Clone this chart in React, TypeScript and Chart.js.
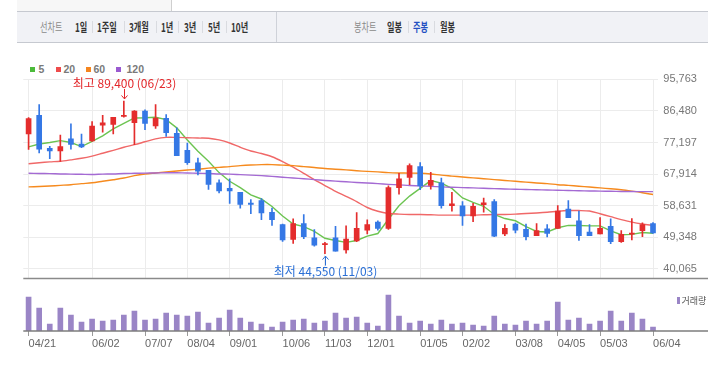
import React, { useEffect, useRef } from "react";
import { Chart, registerables } from "chart.js";
Chart.register(...registerables);

const dates = [
  "04/21", "04/28", "05/04", "05/11", "05/18", "05/25", "06/02", "06/08", "06/15", "06/23",
  "06/29", "07/07", "07/13", "07/20", "07/27", "08/04", "08/10", "08/18", "08/24", "09/01",
  "09/07", "09/14", "09/21", "09/28", "10/06", "10/12", "10/19", "10/26", "11/03", "11/09",
  "11/16", "11/23", "12/01", "12/07", "12/14", "12/21", "12/28", "01/05", "01/11", "01/18",
  "01/25", "02/02", "02/08", "02/15", "02/22", "03/02", "03/08", "03/15", "03/22", "03/29",
  "04/05", "04/12", "04/19", "04/26", "05/03", "05/10", "05/17", "05/24", "05/31", "06/04",
];
const tickDates = ["04/21", "06/02", "07/07", "08/04", "09/01", "10/06", "11/03", "12/01", "01/05", "02/02", "03/08", "04/05", "05/03", "06/04"];

const opens = [79700, 85200, 75450, 74700, 78250, 76750, 77650, 82250, 82500, 84850, 83050, 86400, 82050, 84300, 79900, 74900, 71250, 69000, 65350, 63700, 62550, 59400, 60150, 56700, 53050, 48700, 53350, 49150, 47200, 49150, 45600, 48300, 51400, 53800, 51950, 63950, 66950, 70100, 64600, 65350, 58650, 58600, 55650, 58950, 59800, 50350, 53250, 51650, 49800, 51850, 51950, 57650, 54200, 50850, 50350, 52600, 48050, 50250, 51300, 53350];
const highs = [84500, 88300, 76100, 79350, 82700, 79650, 83350, 85200, 84600, 89400, 86600, 86800, 88300, 85400, 81500, 77050, 72650, 69000, 66200, 66500, 62550, 60400, 60700, 57900, 53250, 54750, 56050, 51600, 47850, 52600, 52700, 56600, 54450, 54200, 64450, 68150, 70950, 71300, 68450, 66750, 62550, 59800, 59300, 60900, 60400, 53050, 53550, 53250, 53350, 53050, 58650, 60150, 57050, 53050, 55100, 54750, 51300, 54850, 53600, 53700];
const lows = [75150, 74100, 72450, 71600, 75250, 75650, 77500, 80250, 79700, 84600, 76550, 80950, 81300, 79000, 73300, 70750, 67700, 63400, 62400, 59300, 57900, 56250, 54550, 52800, 48100, 47550, 48950, 46700, 44550, 45250, 44700, 48050, 50350, 51400, 51650, 62000, 64800, 63350, 63500, 57900, 57000, 52800, 53900, 56700, 49500, 49800, 50650, 48600, 49800, 49450, 51950, 55100, 48400, 49800, 50350, 47500, 47850, 48600, 49500, 50450];
const closes = [84200, 75250, 74700, 76000, 76650, 75900, 82050, 83000, 84600, 85200, 86400, 82800, 84400, 80100, 73300, 71300, 68800, 64900, 62950, 62950, 59000, 59000, 56500, 54550, 48600, 53350, 49500, 47000, 47500, 45250, 48800, 51950, 53050, 51950, 63950, 66500, 70400, 64450, 66100, 58650, 59150, 55600, 58450, 59500, 49700, 51950, 51400, 49500, 51300, 50450, 57050, 55100, 49800, 49800, 51950, 48050, 50250, 50550, 53050, 50650];
const volumes = [1360, 920, 280, 920, 640, 360, 480, 400, 440, 640, 800, 440, 480, 720, 640, 600, 760, 320, 520, 840, 520, 360, 280, 160, 360, 440, 480, 320, 400, 720, 520, 560, 320, 200, 1440, 600, 320, 400, 280, 440, 280, 320, 240, 200, 600, 280, 240, 400, 280, 400, 1160, 440, 520, 280, 400, 800, 400, 720, 480, 160];

const ma5 = [75900, 76750, 77200, 77750, 77200, 76000, 77500, 79150, 81200, 82800, 84400, 84450, 84600, 83900, 81500, 77950, 74600, 71700, 68350, 65800, 63950, 61800, 60600, 58400, 55600, 53250, 52500, 51050, 49050, 48400, 47850, 48400, 49700, 50450, 54650, 58600, 61450, 63700, 66000, 65250, 63700, 60900, 59600, 58450, 56050, 54850, 54200, 52500, 51050, 50900, 52150, 52850, 52800, 52700, 52700, 51200, 50100, 50200, 50750, 50550];
const ma20 = [70950, 71250, 71500, 71700, 72100, 72550, 73200, 74050, 74900, 75800, 76550, 77400, 78250, 78700, 78700, 78600, 78500, 78450, 77950, 77050, 75800, 74700, 73950, 73000, 71600, 69950, 68150, 66300, 64550, 62850, 61350, 59800, 58100, 57000, 56350, 56150, 56050, 56050, 55950, 55850, 55850, 55850, 55850, 55950, 56050, 56050, 56150, 56350, 56500, 56700, 57000, 57200, 57200, 57050, 56250, 55400, 54550, 53800, 53250, 52850];
const ma60 = [64150, 64250, 64400, 64600, 64800, 65100, 65350, 65800, 66250, 66750, 67450, 67950, 68250, 68550, 68800, 69100, 69350, 69650, 69900, 70100, 70400, 70600, 70700, 70700, 70550, 70400, 70100, 69850, 69550, 69350, 69150, 68900, 68700, 68550, 68350, 68250, 68200, 68150, 67950, 67600, 67330, 67050, 66800, 66550, 66300, 66050, 65800, 65550, 65300, 65100, 64800, 64600, 64350, 64100, 63850, 63600, 63300, 62900, 62450, 61900];
const ma120 = [68150, 68100, 68050, 67950, 67900, 67850, 67800, 67900, 67950, 68100, 68150, 68200, 68250, 68300, 68300, 68250, 68150, 68100, 67950, 67900, 67750, 67600, 67450, 67250, 67000, 66750, 66550, 66300, 66050, 65850, 65650, 65450, 65300, 65100, 64900, 64750, 64550, 64450, 64300, 64150, 64050, 63950, 63850, 63750, 63650, 63550, 63450, 63400, 63300, 63250, 63150, 63100, 63000, 62950, 62900, 62850, 62800, 62800, 62750, 62750];

const priceTicks = [40065, 49348, 58631, 67914, 77197, 86480, 95763];
const priceMin = 37266;
const priceMax = 95763;
const volMax = 1680;

const RED = "#e42d2d";
const BLUE = "#3578e5";
const GRID = "#ececec";
const VOL = "#9a85c6";
const LINE_COLORS = { ma5: "#6cc451", ma20: "#f06868", ma60: "#f68a1e", ma120: "#a46ad3" };
const LEGEND = [
  { label: "5", color: "#4cbb3a", sq: 30, tx: 38.5 },
  { label: "20", color: "#ee4b4b", sq: 55.5, tx: 63.5 },
  { label: "60", color: "#f5851f", sq: 85.5, tx: 93.5 },
  { label: "120", color: "#9a5ad0", sq: 115.5, tx: 126.5 },
];

const fmt = (v: number) => Math.round(v).toLocaleString("en-US");
const LEFT = 23.3;
const AXIS_W = 49.7;
const NUM_FONT = "'Liberation Sans', Arial, sans-serif";
const KR_FONT = "'Noto Sans CJK KR', sans-serif";

export default function App() {
  const priceRef = useRef<HTMLCanvasElement>(null);
  const volRef = useRef<HTMLCanvasElement>(null);

  useEffect(() => {
    const tickIdx = new Set(tickDates.map((d) => dates.indexOf(d)));
    const colors = opens.map((o, i) => (closes[i] >= o ? RED : BLUE));

    const annot = {
      id: "annot",
      afterDraw(chart: any) {
        const { ctx, scales, chartArea } = chart;
        const x = scales.x, y = scales.y;
        ctx.save();
        ctx.strokeStyle = "#8a8a8a";
        ctx.lineWidth = 1.5;
        ctx.beginPath();
        ctx.moveTo(chartArea.left, chartArea.bottom);
        ctx.lineTo(chart.width, chartArea.bottom);
        ctx.stroke();

        const hi = Math.max(...highs);
        const lo = Math.min(...lows);
        const hiIdx = highs.indexOf(hi);
        const loIdx = lows.indexOf(lo);
        ctx.font = `12px ${KR_FONT}`;
        ctx.textAlign = "center";
        ctx.textBaseline = "middle";
        ctx.lineWidth = 1;

        let px = Math.round(x.getPixelForValue(hiIdx)) + 0.5;
        let py = y.getPixelForValue(hi);
        ctx.fillStyle = ctx.strokeStyle = "#e3262a";
        ctx.fillText(`최고 ${fmt(hi)} (${dates[hiIdx]})`, px, py - 18);
        ctx.beginPath();
        ctx.moveTo(px, py - 12);
        ctx.lineTo(px, py - 2);
        ctx.moveTo(px - 3, py - 5.5);
        ctx.lineTo(px, py - 2);
        ctx.lineTo(px + 3, py - 5.5);
        ctx.stroke();

        px = Math.round(x.getPixelForValue(loIdx)) + 0.5;
        py = y.getPixelForValue(lo);
        ctx.fillStyle = ctx.strokeStyle = "#2a6fd6";
        ctx.fillText(`최저 ${fmt(lo)} (${dates[loIdx]})`, px, py + 18);
        ctx.beginPath();
        ctx.moveTo(px, py + 12);
        ctx.lineTo(px, py + 2.5);
        ctx.moveTo(px - 3, py + 6);
        ctx.lineTo(px, py + 2.5);
        ctx.lineTo(px + 3, py + 6);
        ctx.stroke();
        ctx.restore();
      },
    };

    const lineDs = (data: number[], color: string, tension: number) => ({
      type: "line" as const,
      data,
      borderColor: color,
      borderWidth: 1.4,
      pointRadius: 0,
      tension,
      order: 1,
    });

    const price = new Chart(priceRef.current!, {
      type: "bar",
      data: {
        labels: dates,
        datasets: [
          {
            type: "bar",
            data: lows.map((l, i) => [l, highs[i]]) as any,
            backgroundColor: colors,
            barThickness: 1,
            grouped: false,
            borderSkipped: false,
            order: 0,
          },
          {
            type: "bar",
            data: opens.map((o, i) => [o, closes[i]]) as any,
            backgroundColor: colors,
            barThickness: 5,
            grouped: false,
            borderSkipped: false,
            order: 0,
          },
          lineDs(ma120, LINE_COLORS.ma120, 0.3),
          lineDs(ma60, LINE_COLORS.ma60, 0.3),
          lineDs(ma20, LINE_COLORS.ma20, 0.3),
          lineDs(ma5, LINE_COLORS.ma5, 0),
        ] as any,
      },
      options: {
        responsive: false,
        animation: false,
        layout: { padding: { left: LEFT, top: 79.3, right: 0, bottom: 1.7 } },
        plugins: { legend: { display: false }, tooltip: { enabled: false } },
        scales: {
          x: {
            offset: true,
            grid: {
              offset: false,
              drawTicks: false,
              color: (c: any) => (tickIdx.has(c.index) ? GRID : "rgba(0,0,0,0)"),
            },
            border: { display: false },
            ticks: { display: false, autoSkip: false },
            afterFit: (s: any) => { s.height = 0; },
          },
          y: {
            position: "right",
            min: priceMin,
            max: priceMax,
            afterBuildTicks: (s: any) => { s.ticks = priceTicks.map((v) => ({ value: v })); },
            grid: { color: GRID, drawTicks: false },
            border: { display: false },
            ticks: {
              padding: 5,
              color: "#777",
              font: { family: NUM_FONT, size: 11 },
              callback: (v: any) => fmt(Number(v)),
            },
            afterFit: (s: any) => { s.width = AXIS_W; },
          },
        },
      } as any,
      plugins: [annot],
    });

    const base = {
      id: "base",
      afterDraw(chart: any) {
        const { ctx, chartArea } = chart;
        ctx.save();
        ctx.strokeStyle = "#7d7d7d";
        ctx.lineWidth = 1.5;
        ctx.beginPath();
        ctx.moveTo(chartArea.left, chartArea.bottom);
        ctx.lineTo(chart.width, chartArea.bottom);
        ctx.stroke();
        ctx.restore();
      },
    };

    const vol = new Chart(volRef.current!, {
      type: "bar",
      data: {
        labels: dates,
        datasets: [{ data: volumes, backgroundColor: VOL, barThickness: 5 }],
      },
      options: {
        responsive: false,
        animation: false,
        layout: { padding: { left: LEFT, top: 1, right: 0, bottom: 0 } },
        plugins: { legend: { display: false }, tooltip: { enabled: false } },
        scales: {
          x: {
            offset: true,
            grid: {
              offset: false,
              drawOnChartArea: false,
              drawTicks: true,
              tickLength: 5,
              tickColor: (c: any) => (tickIdx.has(c.index) ? "#9a9a9a" : "rgba(0,0,0,0)"),
            },
            border: { display: false },
            ticks: {
              autoSkip: false,
              maxRotation: 0,
              minRotation: 0,
              align: "start",
              padding: 1,
              color: "#666",
              font: { family: NUM_FONT, size: 11 },
              callback: (_v: any, i: number) => (tickIdx.has(i) ? dates[i] : ""),
            },
            afterFit: (s: any) => { s.height = 34; },
          },
          y: {
            position: "right",
            min: 0,
            max: volMax,
            ticks: { display: false },
            grid: { display: false },
            border: { display: false },
            afterFit: (s: any) => { s.width = AXIS_W; },
          },
        },
      } as any,
      plugins: [base],
    });

    return () => {
      price.destroy();
      vol.destroy();
    };
  }, []);

  const tb: { t?: string; x: number; kind: "gray" | "bold" | "blue" | "sep" | "div" }[] = [
    { t: "선차트", x: 40, kind: "gray" },
    { t: "1일", x: 74.7, kind: "bold" },
    { x: 91.7, kind: "sep" },
    { t: "1주일", x: 97.3, kind: "bold" },
    { x: 124, kind: "sep" },
    { t: "3개월", x: 129.3, kind: "bold" },
    { x: 156, kind: "sep" },
    { t: "1년", x: 161, kind: "bold" },
    { x: 178.3, kind: "sep" },
    { t: "3년", x: 184, kind: "bold" },
    { x: 202.3, kind: "sep" },
    { t: "5년", x: 208, kind: "bold" },
    { x: 226, kind: "sep" },
    { t: "10년", x: 231, kind: "bold" },
    { x: 276, kind: "div" },
    { t: "봉차트", x: 354, kind: "gray" },
    { t: "일봉", x: 387.3, kind: "bold" },
    { x: 408, kind: "sep" },
    { t: "주봉", x: 413.3, kind: "blue" },
    { x: 434.3, kind: "sep" },
    { t: "월봉", x: 440, kind: "bold" },
  ];

  return (
    <div style={{ position: "fixed", left: 0, top: 0, width: 708, height: 365, background: "#fff", overflow: "hidden" }}>
      <div style={{ position: "absolute", left: 17, top: 0, width: 154, height: 11, background: "#f7f7f7", borderRight: "1px solid #cfcfcf" }} />
      <div style={{ position: "absolute", left: 17, top: 11, width: 691, height: 30, background: "#f1f2f6", borderTop: "1px solid #c6c9d0", borderBottom: "1px solid #c6c9d0" }} />
      {tb.map((it, i) => {
        if (it.kind === "sep") {
          return <div key={i} style={{ position: "absolute", left: it.x, top: 21, width: 1, height: 12, background: "#d9dbe0" }} />;
        }
        if (it.kind === "div") {
          return <div key={i} style={{ position: "absolute", left: it.x, top: 12, width: 1, height: 30, background: "#cfd2d9" }} />;
        }
        return (
          <span
            key={i}
            style={{
              position: "absolute",
              left: it.x,
              top: 19.7,
              lineHeight: "14px",
              fontSize: 12,
              fontFamily: KR_FONT,
              fontWeight: it.kind === "gray" ? 400 : 700,
              color: it.kind === "gray" ? "#8a8a8a" : it.kind === "blue" ? "#2350c2" : "#333",
              transform: "scaleX(0.68)",
              transformOrigin: "left center",
              whiteSpace: "nowrap",
            }}
          >
            {it.t}
          </span>
        );
      })}
      {LEGEND.map((l) => (
        <React.Fragment key={l.label}>
          <div style={{ position: "absolute", left: l.sq, top: 66.7, width: 5, height: 5, background: l.color }} />
          <span style={{ position: "absolute", left: l.tx, top: 62, lineHeight: "14px", fontSize: 10.5, fontWeight: 700, fontFamily: NUM_FONT, color: "#7a7a7a" }}>{l.label}</span>
        </React.Fragment>
      ))}
      <canvas ref={priceRef} width={708} height={290} style={{ position: "absolute", left: 0, top: 0, width: 708, height: 290 }} />
      <canvas ref={volRef} width={708} height={77} style={{ position: "absolute", left: 0, top: 288, width: 708, height: 77 }} />
      <div style={{ position: "absolute", left: 676.5, top: 297, width: 3.5, height: 7, background: VOL }} />
      <span style={{ position: "absolute", left: 681.5, top: 294, lineHeight: "13px", fontSize: 9, fontFamily: KR_FONT, color: "#555", whiteSpace: "nowrap" }}>거래량</span>
    </div>
  );
}
